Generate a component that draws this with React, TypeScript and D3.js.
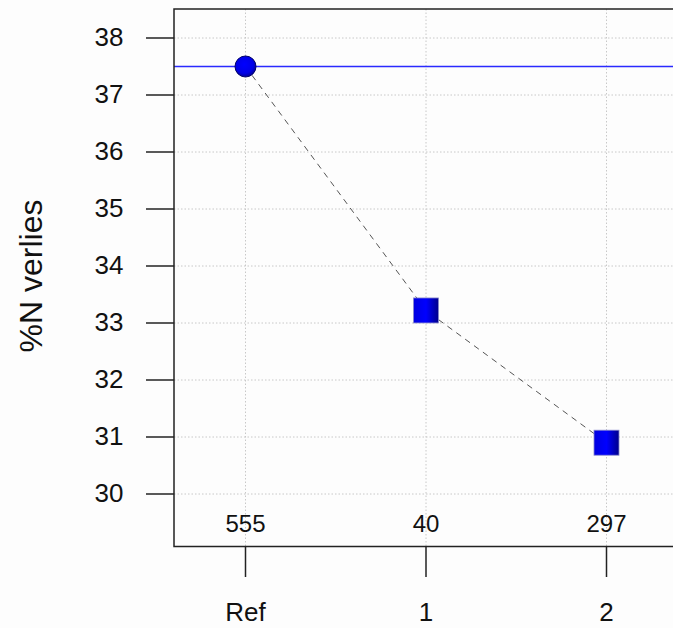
import React from "react";
import * as d3 from "d3";

const categories = ["Ref", "1", "2"];
const counts = ["555", "40", "297"];
const values = [37.5, 33.22, 30.9];
const yTicks = [30, 31, 32, 33, 34, 35, 36, 37, 38];
const refLine = 37.5;

const W = 673;
const H = 628;
const boxLeft = 174;
const boxTop = 9;
const boxBottom = 546.5;
const boxRight = 700;

export default function App() {
  const x = d3.scalePoint<string>().domain(categories).range([245.5, 606.5]);
  const y = d3.scaleLinear().domain([30, 38]).range([494, 38]);
  const font = "'Liberation Sans', Arial, sans-serif";
  const line = d3
    .line<number>()
    .x((_, i) => x(categories[i]) as number)
    .y((d) => y(d));
  const sq = 25;
  return (
    <svg
      width={W}
      height={H}
      style={{ position: "absolute", left: 0, top: 0, background: "#fdfdfd" }}
      fontFamily={font}
    >
      <defs>
        <linearGradient id="sqg" x1="0" x2="1" y1="0" y2="0">
          <stop offset="0" stopColor="#0000e0" />
          <stop offset="0.5" stopColor="#0000ff" />
          <stop offset="1" stopColor="#00008a" />
        </linearGradient>
        <radialGradient id="cg" cx="0.45" cy="0.4" r="0.6">
          <stop offset="0" stopColor="#0000ff" />
          <stop offset="0.7" stopColor="#0000e6" />
          <stop offset="1" stopColor="#00009a" />
        </radialGradient>
      </defs>
      <rect x={0} y={0} width={W} height={H} fill="#fdfdfd" />
      {/* grid */}
      {yTicks.map((t) => (
        <line
          key={"gy" + t}
          x1={boxLeft}
          x2={boxRight}
          y1={y(t)}
          y2={y(t)}
          stroke="#c8c8c8"
          strokeWidth={1}
          strokeDasharray="1.5,2"
        />
      ))}
      {categories.map((c) => (
        <line
          key={"gx" + c}
          x1={x(c)}
          x2={x(c)}
          y1={boxTop}
          y2={boxBottom}
          stroke="#c8c8c8"
          strokeWidth={1}
          strokeDasharray="1.5,2"
        />
      ))}
      {/* reference line */}
      <line
        x1={boxLeft}
        x2={boxRight}
        y1={y(refLine)}
        y2={y(refLine)}
        stroke="#2a2aff"
        strokeWidth={1.5}
      />
      {/* dashed connection */}
      <path
        d={line(values) || ""}
        fill="none"
        stroke="#555"
        strokeWidth={1}
        strokeDasharray="6,5"
      />
      {/* box */}
      <rect
        x={boxLeft}
        y={boxTop}
        width={boxRight - boxLeft}
        height={boxBottom - boxTop}
        fill="none"
        stroke="#222"
        strokeWidth={1.5}
      />
      {/* points */}
      {values.map((v, i) =>
        i === 0 ? (
          <circle
            key={"p" + i}
            cx={x(categories[i])}
            cy={y(v)}
            r={10.5}
            fill="url(#cg)"
            stroke="#000066"
            strokeWidth={1}
          />
        ) : (
          <rect
            key={"p" + i}
            x={(x(categories[i]) as number) - sq / 2}
            y={y(v) - sq / 2}
            width={sq}
            height={sq}
            fill="url(#sqg)"
            stroke="#8888cc"
            strokeWidth={0.8}
          />
        )
      )}
      {/* y axis ticks */}
      {yTicks.map((t) => (
        <g key={"yt" + t}>
          <line x1={146} x2={boxLeft} y1={y(t)} y2={y(t)} stroke="#222" strokeWidth={1.5} />
          <text
            x={123.5}
            y={y(t) + 7.5}
            textAnchor="end"
            fontSize={26}
            fill="#111"
          >
            {t}
          </text>
        </g>
      ))}
      {/* x ticks */}
      {categories.map((c, i) => (
        <g key={"xt" + c}>
          <line x1={x(c)} x2={x(c)} y1={boxBottom} y2={577} stroke="#222" strokeWidth={1.5} />
          <text x={x(c)} y={531.5} textAnchor="middle" fontSize={24} fill="#111">
            {counts[i]}
          </text>
          <text x={x(c)} y={621} textAnchor="middle" fontSize={26} fill="#111">
            {c}
          </text>
        </g>
      ))}
      <text
        transform={`translate(41.5,276) rotate(-90)`}
        textAnchor="middle"
        fontSize={32}
        fill="#111"
      >
        %N verlies
      </text>
    </svg>
  );
}
